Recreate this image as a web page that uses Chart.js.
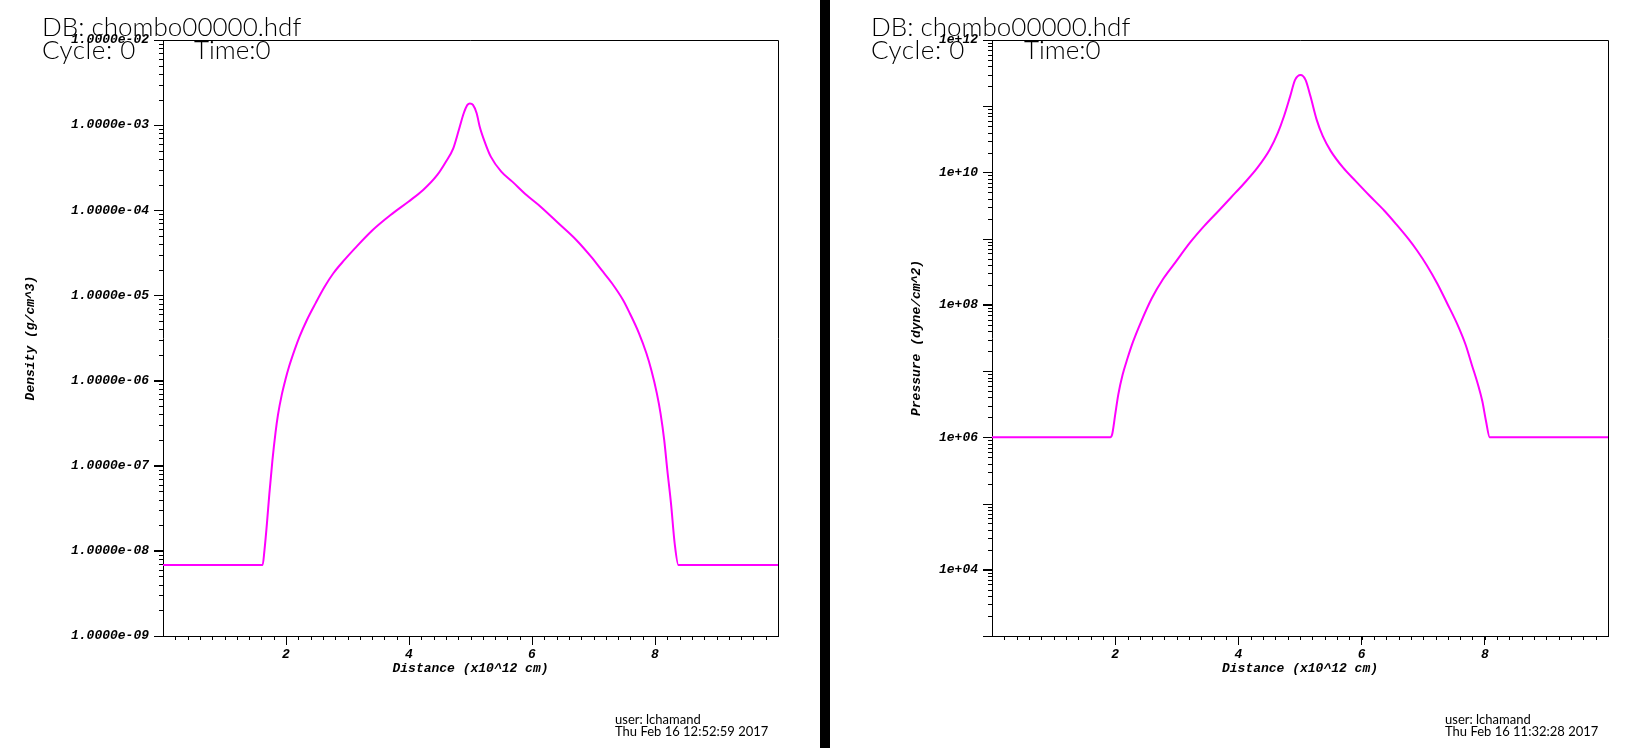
<!DOCTYPE html>
<html>
<head>
<meta charset="utf-8">
<script src="https://cdn.jsdelivr.net/npm/chart.js@4/dist/chart.umd.min.js"></script>
<style>
  html, body { margin: 0; padding: 0; background: #fff; }
  body { width: 1650px; height: 748px; position: relative; overflow: hidden; }
  .plot { position: absolute; top: 0; width: 820px; height: 748px; }
  .bar { position: absolute; left: 820px; top: 0; width: 10px; height: 748px; background: #000; }
  .hdr { position: absolute; font-family: Lato, sans-serif; font-weight: 300; color: #000; font-size: 26px; line-height: 26px; white-space: nowrap; z-index: 2; }
  .foot { position: absolute; font-family: Lato, sans-serif; color: #000; font-size: 13px; line-height: 12px; white-space: nowrap; z-index: 2; }
</style>
</head>
<body>
<div class="plot" style="left:0"><canvas id="densityChart"></canvas></div>
<div class="bar"></div>
<div class="plot" style="left:830px"><canvas id="pressureChart"></canvas></div>

<div class="hdr" style="left:42px;top:13px">DB: chombo00000.hdf</div>
<div class="hdr" style="left:42px;top:36px;letter-spacing:0.5px">Cycle: 0</div>
<div class="hdr" style="left:194px;top:36px">Time:0</div>
<div class="foot" style="left:615px;top:713px">user: lchamand<br>Thu Feb 16 12:52:59 2017</div>

<div class="hdr" style="left:871px;top:13px">DB: chombo00000.hdf</div>
<div class="hdr" style="left:871px;top:36px;letter-spacing:0.5px">Cycle: 0</div>
<div class="hdr" style="left:1024px;top:36px">Time:0</div>
<div class="foot" style="left:1445px;top:713px">user: lchamand<br>Thu Feb 16 11:32:28 2017</div>

<script>
// distance in x10^12 cm
const densX = [0, 1.62, 1.65, 1.69, 1.73, 1.78, 1.83, 1.87, 1.93, 1.99, 2.05, 2.14, 2.22, 2.34, 2.48, 2.63, 2.77, 2.95, 3.12, 3.41,
  3.70, 3.99, 4.23, 4.46, 4.60, 4.72, 4.81, 4.89, 4.95, 4.99, 5.04, 5.10, 5.15, 5.24, 5.33, 5.50, 5.68, 5.91, 6.14, 6.43,
  6.72, 6.96, 7.13, 7.30, 7.48, 7.59, 7.74, 7.86, 7.94, 8.03, 8.09, 8.15, 8.20, 8.26, 8.32, 8.38, 10];
// density g/cm^3
const densVal = [6.82e-9, 6.82e-9, 1.02e-8, 2.10e-8, 4.74e-8, 1.17e-7, 2.47e-7, 3.99e-7, 6.75e-7, 1.02e-6, 1.46e-6, 2.29e-6, 3.28e-6, 5.15e-6, 8.07e-6, 1.27e-5, 1.82e-5, 2.61e-5, 3.57e-5, 5.87e-5,
  8.81e-5, 1.26e-4, 1.73e-4, 2.60e-4, 3.72e-4, 5.35e-4, 8.77e-4, 1.38e-3, 1.73e-3, 1.80e-3, 1.73e-3, 1.38e-3, 9.59e-4, 6.12e-4, 4.27e-4, 2.84e-4, 2.17e-4, 1.51e-4, 1.10e-4, 7.03e-5,
  4.48e-5, 2.85e-5, 1.99e-5, 1.39e-5, 8.83e-6, 6.17e-6, 3.59e-6, 2.09e-6, 1.33e-6, 7.08e-7, 4.12e-7, 2.00e-7, 8.91e-8, 3.61e-8, 1.22e-8, 6.82e-9, 6.82e-9];

// right panel
const presX = [0, 1.92, 1.95, 2.00, 2.05, 2.12, 2.20, 2.29, 2.42, 2.59, 2.78, 2.98, 3.22, 3.45, 3.68, 3.88, 4.08, 4.31, 4.51, 4.64,
  4.74, 4.84, 4.92, 5.01, 5.09, 5.17, 5.27, 5.37, 5.50, 5.70, 5.90, 6.13, 6.37, 6.56, 6.76, 6.90, 7.06, 7.23, 7.39, 7.56,
  7.69, 7.79, 7.89, 7.96, 8.02, 8.08, 10];
// pressure dyne/cm^2
const presVal = [1e6, 1e6, 1.10e6, 2.20e6, 4.41e6, 8.79e6, 1.56e7, 2.78e7, 5.56e7, 1.24e8, 2.48e8, 4.43e8, 8.83e8, 1.57e9, 2.64e9, 4.19e9, 6.64e9, 1.18e10, 2.22e10, 3.96e10,
  7.05e10, 1.41e11, 2.50e11, 2.97e11, 2.50e11, 1.41e11, 6.28e10, 3.53e10, 2.10e10, 1.18e10, 7.45e9, 4.44e9, 2.64e9, 1.66e9, 9.91e8, 6.62e8, 3.94e8, 2.09e8, 1.05e8, 4.95e7,
  2.48e7, 1.24e7, 6.22e6, 3.50e6, 1.75e6, 1e6, 1e6];

const xTicks = [2, 4, 6, 8];
const densTicks = [1e-9, 1e-8, 1e-7, 1e-6, 1e-5, 1e-4, 1e-3, 1e-2];
const presTicks = [1e4, 1e6, 1e8, 1e10, 1e12];

Chart.defaults.font.family = '"Liberation Mono", monospace';
Chart.defaults.color = '#000';

const tickFont = { family: '"Liberation Mono", monospace', size: 13, weight: 'bold', style: 'italic' };

// minor ticks every 0.2 along x, 2..9 per decade on y
function xMinorTicks() {
  const out = [];
  for (let i = 1; i < 50; i++) out.push(i / 5);
  return out;
}
function logMinorTicks(lo, hi) {
  const out = [];
  for (let e = lo; e < hi; e++) {
    for (let m = 1; m <= 9; m++) out.push({ v: m * Math.pow(10, e), major: m === 1 });
  }
  return out;
}

const frame = {
  id: 'frame',
  afterDraw(chart, args, opts) {
    const { ctx, chartArea: a, scales: { x, y } } = chart;
    ctx.save();
    ctx.strokeStyle = '#000';
    ctx.lineWidth = 1;
    ctx.beginPath();
    opts.xMinor.forEach(v => {
      const px = Math.round(x.getPixelForValue(v)) + 0.5;
      ctx.moveTo(px, a.bottom);
      ctx.lineTo(px, a.bottom + 4);
    });
    opts.yMinor.forEach(t => {
      const py = Math.round(y.getPixelForValue(t.v)) + 0.5;
      ctx.moveTo(a.left, py);
      ctx.lineTo(a.left - (t.major ? 9 : 4), py);
    });
    // top and right edges of the box
    ctx.moveTo(a.left, Math.round(a.top) + 0.5);
    ctx.lineTo(Math.round(a.right) + 0.5, Math.round(a.top) + 0.5);
    ctx.lineTo(Math.round(a.right) + 0.5, a.bottom);
    ctx.stroke();
    ctx.restore();
  }
};

function makeChart(id, xs, vals, yOpts) {
  return new Chart(document.getElementById(id), {
    type: 'line',
    data: {
      datasets: [{
        data: xs.map((x, i) => ({ x: x, y: vals[i] })),
        borderColor: '#ff00ff',
        borderWidth: 2,
        pointRadius: 0,
        cubicInterpolationMode: 'monotone',
        fill: false
      }]
    },
    options: {
      responsive: true,
      maintainAspectRatio: false,
      animation: false,
      events: [],
      layout: { padding: { top: 40, right: 42, left: 0, bottom: 0 } },
      plugins: {
        legend: { display: false },
        tooltip: { enabled: false },
        frame: { xMinor: xMinorTicks(), yMinor: yOpts.minor }
      },
      scales: {
        x: {
          type: 'linear',
          min: 0,
          max: 10,
          afterBuildTicks: s => { s.ticks = xTicks.map(v => ({ value: v })); },
          afterFit: s => { s.height = 112; },
          grid: { drawOnChartArea: false, color: '#000', tickLength: 9 },
          border: { color: '#000', width: 1 },
          ticks: { font: tickFont, padding: 2, maxRotation: 0, autoSkip: false, callback: v => String(v) },
          title: { display: true, text: 'Distance (x10^12 cm)', font: tickFont, padding: { top: 0, bottom: 71 } }
        },
        y: {
          type: 'logarithmic',
          min: yOpts.min,
          max: yOpts.max,
          afterBuildTicks: s => { s.ticks = yOpts.ticks.map(v => ({ value: v })); },
          afterFit: s => { s.width = yOpts.width; },
          grid: { drawOnChartArea: false, color: '#000', tickLength: 9 },
          border: { color: '#000', width: 1 },
          ticks: { font: tickFont, padding: 5, autoSkip: false, callback: yOpts.fmt },
          title: { display: true, text: yOpts.title, font: tickFont, padding: { top: yOpts.titlePad, bottom: 0 } }
        }
      }
    },
    plugins: [frame]
  });
}

function expLabel(v, mant) {
  const e = Math.round(Math.log10(v));
  const sign = e < 0 ? '-' : '+';
  const d = String(Math.abs(e)).padStart(2, '0');
  return mant + 'e' + sign + d;
}

makeChart('densityChart', densX, densVal, {
  min: 1e-9, max: 1e-2, ticks: densTicks, width: 163, titlePad: 23,
  title: 'Density (g/cm^3)', minor: logMinorTicks(-9, -2),
  fmt: v => expLabel(v, '1.0000')
});

makeChart('pressureChart', presX, presVal, {
  min: 1e3, max: 1e12, ticks: presTicks, width: 162, titlePad: 79,
  title: 'Pressure (dyne/cm^2)', minor: logMinorTicks(3, 12),
  fmt: v => expLabel(v, '1')
});
</script>
</body>
</html>
